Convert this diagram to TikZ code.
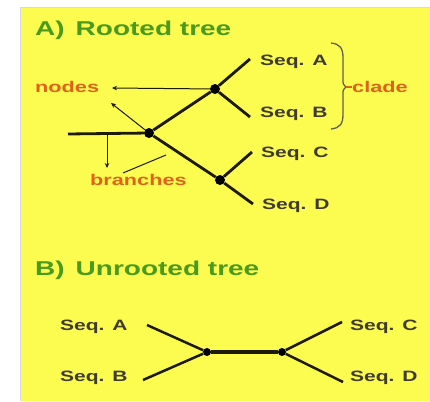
\documentclass[tikz,border=0pt]{standalone}
\usepackage{fontspec}
\setmainfont{Liberation Sans}
\newfontfamily\widefont[FakeStretch=1.4]{Liberation Sans}
\usetikzlibrary{arrows.meta}
\definecolor{panel}{HTML}{FCFC50}
\definecolor{ttl}{HTML}{4A9A1E}
\definecolor{lbl}{HTML}{E0621A}
\definecolor{ink}{HTML}{1E1A08}
\begin{document}
\begin{tikzpicture}[x=1pt,y=-1pt,
  seq/.style={font=\widefont\bfseries\fontsize{15}{15}\selectfont, text=ink!85, inner sep=0pt, anchor=west},
  ttlstyle/.style={font=\widefont\bfseries\fontsize{20}{20}\selectfont, text=ttl, inner sep=0pt, anchor=west},
  lblstyle/.style={font=\widefont\bfseries\fontsize{15.5}{15.5}\selectfont, text=lbl, inner sep=0pt, anchor=west},
  dot/.style={circle, fill=black, inner sep=0pt, minimum size=10pt},
  branch/.style={line width=2.8pt, draw=ink},
  thin/.style={line width=1pt, draw=ink},
  pointer/.style={thin, -{Stealth[length=5pt,width=4.5pt]}},
]
\useasboundingbox (0,0) rectangle (430,401);
\fill[white] (0,0) rectangle (430,401);
\fill[panel] (20,8) rectangle (430,401);
\draw[black!15, line width=1pt] (20,401) -- (20,8) -- (430,8);

% ---------- A) Rooted tree
\node[ttlstyle] (ta) at (35,30) {A)\hspace{11pt}Rooted tree};

\node[dot] (n1) at (215,89) {};
\node[dot] (n0) at (149,133) {};
\node[dot] (n2) at (220,180) {};
\coordinate (stem) at (68,134);

\node[seq] (sa) at (260,62) {Seq. A};
\node[seq] (sb) at (260,114) {Seq. B};
\node[seq] (sc) at (261,154) {Seq. C};
\node[seq] (sd) at (262,206) {Seq. D};

\draw[branch] (stem) -- (n0);
\draw[branch] (n0) -- (n1);
\draw[branch] (n0) -- (n2);
\draw[branch] (n1) -- (250,59);
\draw[branch] (n1) -- (250,117);
\draw[branch] (n2) -- (252,152);
\draw[branch] (n2) -- (253,204);

% clade bracket
\draw[ink!70, line width=1.3pt] (331,43) .. controls (340,44) and (343,48) .. (343,58)
   -- (343,80) .. controls (343,84) .. (346,87)
   .. controls (343,90) .. (343,94) -- (343,114)
   .. controls (343,124) and (340,128) .. (331,129);
\node[lblstyle] (clade) at (352,87) {clade};
\draw[lbl, line width=1.2pt] (346,87) -- (clade.west);

% nodes label
\node[lblstyle] (nodes) at (35,87) {nodes};
\coordinate (pn1) at (112,88);
\coordinate (pn0) at (111,103);
\draw[pointer] (n1) -- (pn1);
\draw[pointer] (n0) -- (pn0);

% branches label
\node[lblstyle] (branches) at (90,180) {branches};
\coordinate (bs) at (107,134);
\coordinate (bt) at (107,168);
\draw[pointer] (bs) -- (bt);
\coordinate (bl) at (123,173);
\coordinate (br) at (166,155);
\draw[thin] (bl) -- (br);

% ---------- B) Unrooted tree
\node[ttlstyle] (tb) at (35,270) {B)\hspace{11pt}Unrooted tree};

\node[dot, minimum size=8pt] (u1) at (207,352) {};
\node[dot, minimum size=8pt] (u2) at (282,352) {};

\node[seq] (ua) at (60,327) {Seq. A};
\node[seq] (ub) at (60,378) {Seq. B};
\node[seq] (uc) at (350,327) {Seq. C};
\node[seq] (ud) at (350,378) {Seq. D};

\draw[branch, line width=4pt] (u1) -- (u2);
\draw[branch, line width=2.5pt] (u1) -- (147,325);
\draw[branch, line width=2.5pt] (u1) -- (143,380);
\draw[branch, line width=2.5pt] (u2) -- (342,322);
\draw[branch, line width=2.5pt] (u2) -- (343,382);
\end{tikzpicture}
\end{document}
